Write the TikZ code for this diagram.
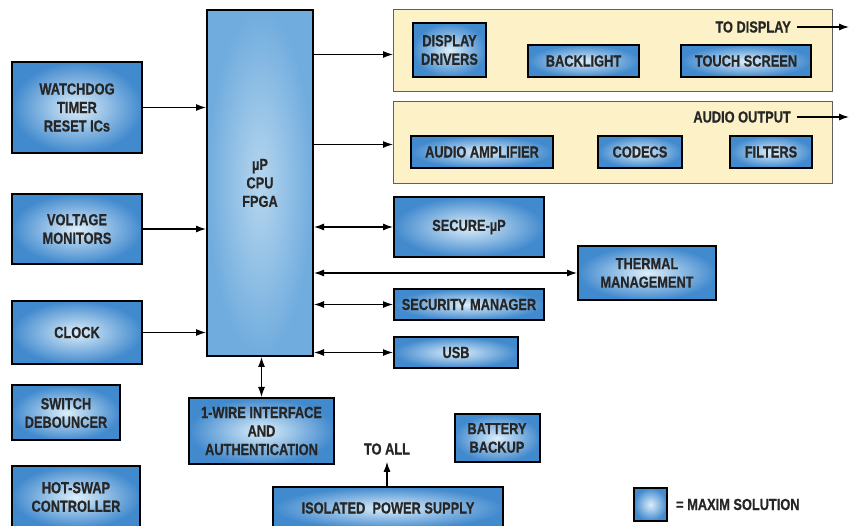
\documentclass[tikz,border=0pt]{standalone}
\usepackage{fontspec}
\setmainfont{Liberation Sans Bold}[FakeStretch=0.8, FakeBold=0.6]
\usetikzlibrary{positioning,arrows.meta}
\definecolor{maxblue}{RGB}{66,138,206}
\definecolor{maxlight}{RGB}{220,238,250}
\definecolor{cpublue}{RGB}{112,172,222}
\definecolor{cpulight}{RGB}{182,214,238}
\definecolor{panel}{RGB}{253,241,199}
\definecolor{panelline}{RGB}{95,95,95}

\begin{document}
\begin{tikzpicture}[x=1pt,y=-1pt,
		every node/.style={
				font=\fontsize{16}{18.5}\selectfont,
				text=black!85,
				align=center,
				inner sep=0pt},
		sz/.style 2 args={minimum width=#1pt, minimum height=#2pt},
		blk/.style={draw, line width=2pt, shading=radial, inner color=maxlight, outer color=maxblue},
		grp/.style={draw=panelline, line width=1pt, fill=panel},
		link/.style={-{Latex[length=10pt,width=7pt]}, line width=1.2pt},
		both/.style={{Latex[length=10pt,width=7pt]}-{Latex[length=10pt,width=7pt]}, line width=1.2pt}]

	\useasboundingbox (0,0) rectangle (849,526);

	\node[blk, sz={106}{346}, inner color=cpulight, outer color=cpublue] (cpu) at (260,183) {µP\\CPU\\FPGA};

	\node[blk, sz={130}{91}] (wdog) at (77,107.5) {WATCHDOG\\TIMER\\RESET ICs};
	\node[blk, sz={130}{70}] (volt) at (77,229) {VOLTAGE\\MONITORS};
	\node[blk, sz={130}{63}] (clk) at (77,332.5) {CLOCK};
	\node[blk, sz={108}{55}] (debounce) at (66,413) {SWITCH\\DEBOUNCER};
	\node[blk, sz={128}{62}] (hotswap) at (76,497) {HOT-SWAP\\CONTROLLER};

	\node[blk, sz={145}{66}] (onewire) at (261.5,431) {1-WIRE INTERFACE\\AND\\AUTHENTICATION};
	\node[blk, sz={230}{42}] (psu) at (388,508) {ISOLATED\ \ POWER SUPPLY};
	\node (toall) at (387,449) {TO ALL};
	\node[blk, sz={85}{48}] (battery) at (497,438) {BATTERY\\BACKUP};

	\node[blk, sz={33}{33}] (key) at (650.5,504.5) {};
	\node[right=8pt of key] (keytext) {= MAXIM SOLUTION};

	\node[grp, sz={439}{82}] (dispgrp) at (613,50.5) {};
	\node[blk, sz={73}{54}] (drivers) at (449.5,50) {DISPLAY\\DRIVERS};
	\node[blk, sz={111}{32}] (backlight) at (583.5,61) {BACKLIGHT};
	\node[blk, sz={130}{32}] (touch) at (746,61) {TOUCH SCREEN};
	\node[anchor=east] (todisp) at (791,27) {TO DISPLAY};
	\coordinate (dispout) at (849,27);

	\node[grp, sz={439}{82}] (audgrp) at (613,142.5) {};
	\node[blk, sz={142}{32}] (amp) at (482,152) {AUDIO AMPLIFIER};
	\node[blk, sz={84}{32}] (codecs) at (640,152) {CODECS};
	\node[blk, sz={82}{32}] (filters) at (771,152) {FILTERS};
	\node[anchor=east] (audout) at (791,117) {AUDIO OUTPUT};
	\coordinate (audend) at (849,117);

	\node[blk, sz={150}{60}] (secure) at (469,227) {SECURE-µP};
	\node[blk, sz={138}{54}] (thermal) at (647,273) {THERMAL\\MANAGEMENT};
	\node[blk, sz={150}{31}] (secmgr) at (469,304.5) {SECURITY MANAGER};
	\node[blk, sz={124}{31}] (usb) at (456,352.5) {USB};

	\draw[link] (wdog.east) -- (wdog.east -| cpu.west);
	\draw[link] (volt.east) -- (volt.east -| cpu.west);
	\draw[link] (clk.east) -- (clk.east -| cpu.west);
	\draw[link, transform canvas={yshift=-4pt}] (cpu.east |- dispgrp.west) -- (dispgrp.west);
	\draw[link, transform canvas={yshift=-2pt}] (cpu.east |- audgrp.west) -- (audgrp.west);
	\draw[link] ([xshift=6pt]todisp.east) -- (dispout);
	\draw[link] ([xshift=6pt]audout.east) -- (audend);
	\draw[both] (cpu.east |- secure.west) -- (secure.west);
	\draw[both] (cpu.east |- thermal.west) -- (thermal.west);
	\draw[both] (cpu.east |- secmgr.west) -- (secmgr.west);
	\draw[both] (cpu.east |- usb.west) -- (usb.west);
	\draw[both] (onewire.north |- cpu.south) -- (onewire.north);
	\draw[link] (psu.north -| toall.south) -- ([yshift=-7pt]toall.south);

\end{tikzpicture}
\end{document}
